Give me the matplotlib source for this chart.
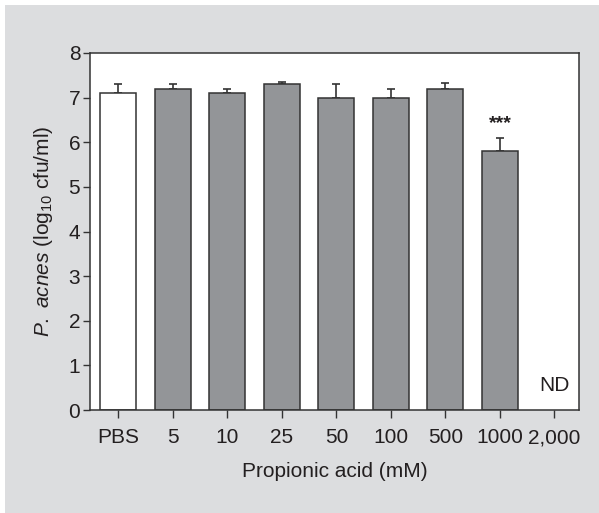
import numpy as np
import matplotlib.pyplot as plt
from matplotlib.patches import Rectangle

labels = ['PBS', '5', '10', '25', '50', '100', '500', '1000', '2,000']
values = [7.1, 7.2, 7.1, 7.3, 7.0, 7.0, 7.2, 5.8, 0.0]
errors = [0.2, 0.1, 0.1, 0.05, 0.3, 0.2, 0.13, 0.3, 0.0]
colors = ['white'] + ['#939598'] * 8

plt.rcParams['font.family'] = ['Liberation Sans', 'DejaVu Sans']
plt.rcParams['mathtext.fontset'] = 'custom'
plt.rcParams['mathtext.rm'] = 'Liberation Sans'
plt.rcParams['mathtext.it'] = 'Liberation Sans:italic'
txt = '#231f20'

fig = plt.figure(figsize=(5.99, 5.13), dpi=100, facecolor='white')
fig.patches.append(Rectangle((5 / 599, -0.01), 1, 1.01 - 5 / 513, transform=fig.transFigure,
                             facecolor='#dcdddf', edgecolor='none', zorder=-1))

ax = fig.add_axes([90 / 599, 1 - 410 / 513, 489 / 599, 357 / 513])
ax.set_facecolor('white')

x = np.arange(len(labels))
ax.bar(x[:8], values[:8], width=0.66, color=colors[:8], edgecolor='#333333', linewidth=1.1, zorder=2)
ax.errorbar(x[:8], values[:8], yerr=[np.zeros(8), errors[:8]], fmt='none',
            ecolor='#333333', elinewidth=1.2, capsize=3, capthick=1.2, zorder=1)

ax.text(7, 6.42, '***', ha='center', va='center', fontsize=14, fontweight='bold', color=txt)
ax.text(8, 0.55, 'ND', ha='center', va='center', fontsize=15, color=txt)

ax.set_xlim(-0.52, 8.45)
ax.set_ylim(0, 8)
ax.set_yticks(range(9))
ax.set_xticks(x)
ax.set_xticklabels(labels)
ax.tick_params(axis='both', labelsize=15, colors='#333333', labelcolor=txt, width=1)
ax.tick_params(axis='y', length=5, pad=2)
ax.tick_params(axis='x', length=6, pad=7)
for s in ax.spines.values():
    s.set_linewidth(1.1)
    s.set_color('#333333')

ax.set_xlabel('Propionic acid (mM)', fontsize=15, color=txt, labelpad=11)
ax.set_ylabel(r'$\mathit{P.}$ $\mathit{acnes}$ (log$_{10}$ cfu/ml)', fontsize=15, color=txt, labelpad=10)

fig.savefig('out.png', dpi=100, facecolor=fig.get_facecolor())
